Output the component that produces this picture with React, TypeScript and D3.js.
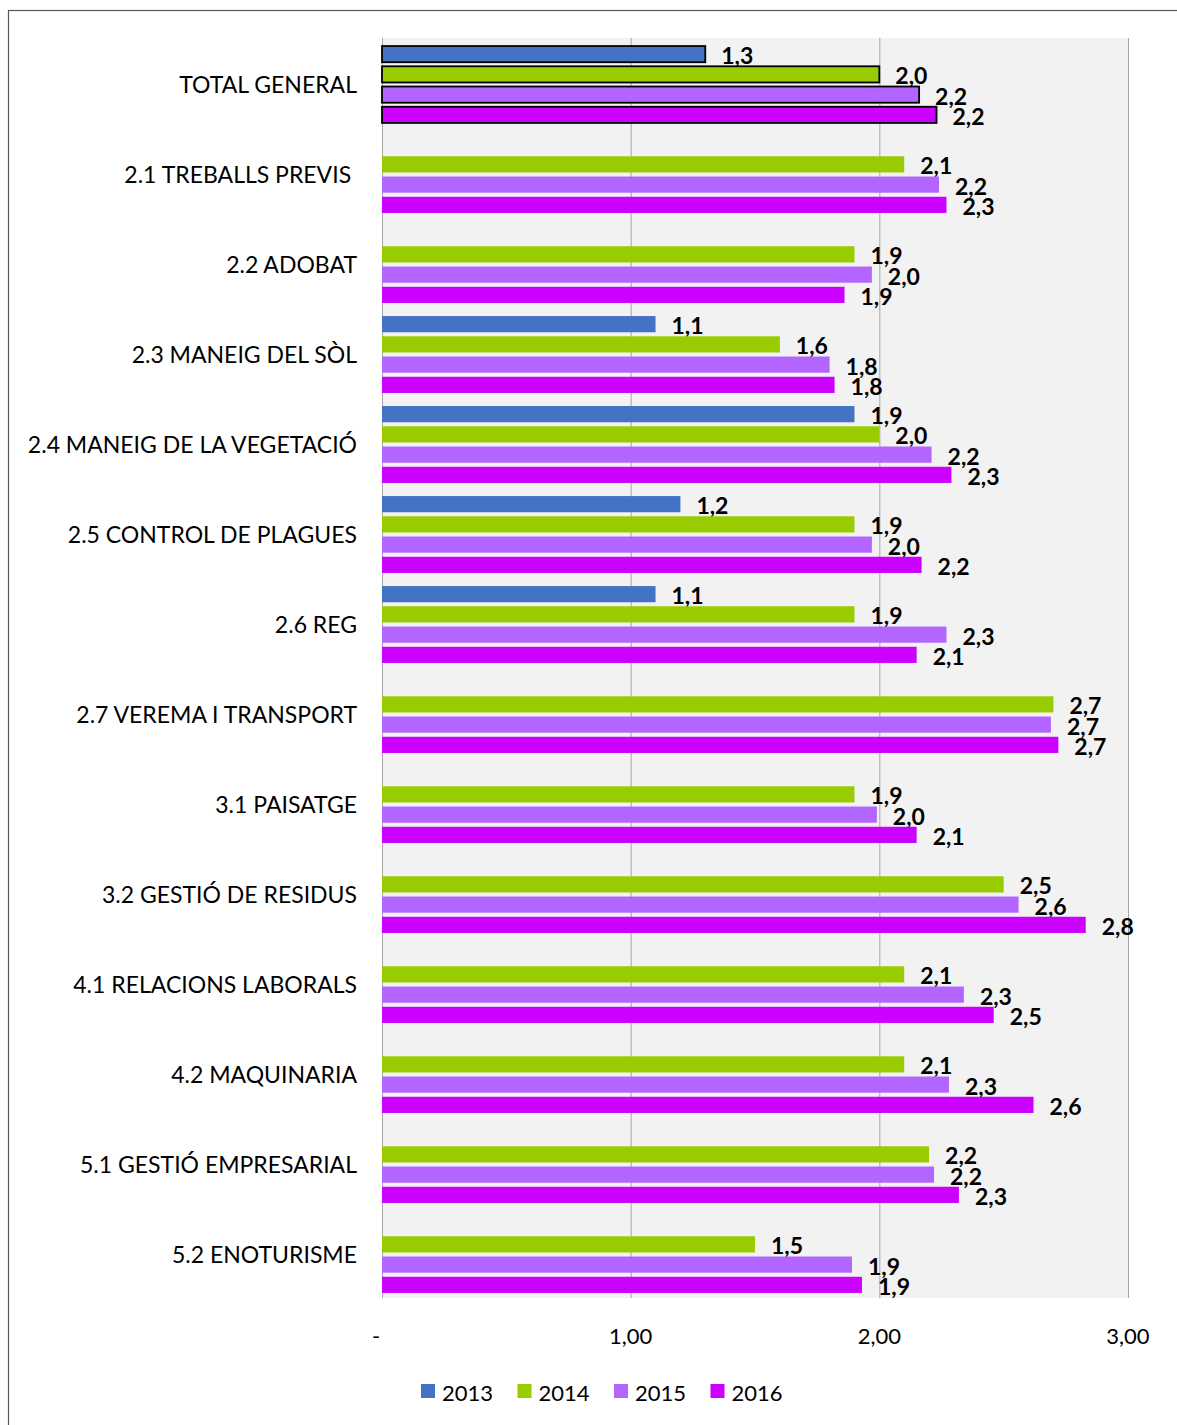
import React, { useEffect, useRef } from 'react';
import * as d3 from 'd3';

const categories = [
  'TOTAL GENERAL',
  '2.1 TREBALLS PREVIS ',
  '2.2 ADOBAT',
  '2.3 MANEIG DEL SÒL',
  '2.4 MANEIG DE LA VEGETACIÓ',
  '2.5 CONTROL DE PLAGUES',
  '2.6 REG',
  '2.7 VEREMA I TRANSPORT',
  '3.1 PAISATGE',
  '3.2 GESTIÓ DE RESIDUS',
  '4.1 RELACIONS LABORALS',
  '4.2 MAQUINARIA',
  '5.1 GESTIÓ EMPRESARIAL',
  '5.2 ENOTURISME',
];

const years = ['2013', '2014', '2015', '2016'];

const values2013: (number | null)[] = [1.3, null, null, 1.1, 1.9, 1.2, 1.1, null, null, null, null, null, null, null];
const values2014: (number | null)[] = [2.0, 2.1, 1.9, 1.6, 2.0, 1.9, 1.9, 2.7, 1.9, 2.5, 2.1, 2.1, 2.2, 1.5];
const values2015: (number | null)[] = [2.16, 2.24, 1.97, 1.8, 2.21, 1.97, 2.27, 2.69, 1.99, 2.56, 2.34, 2.28, 2.22, 1.89];
const values2016: (number | null)[] = [2.23, 2.27, 1.86, 1.82, 2.29, 2.17, 2.15, 2.72, 2.15, 2.83, 2.46, 2.62, 2.32, 1.93];

const seriesValues = [values2013, values2014, values2015, values2016];
const colors = ['#4472C4', '#99CC00', '#B266FF', '#CC00FF'];
const xTicks = [0, 1, 2, 3];

const FONT = 'Lato, "Open Sans", sans-serif';

const App: React.FC = () => {
  const svgRef = useRef<SVGSVGElement>(null);

  useEffect(() => {
    if (!svgRef.current) return;
    const svg = d3.select(svgRef.current);
    svg.selectAll('*').remove();

    const margin = { top: 38, left: 382, right: 49, bottom: 127 };
    const W = 1177;
    const H = 1425;
    const plotW = W - margin.left - margin.right;
    const plotH = H - margin.top - margin.bottom;

    // outer chart border
    svg.append('rect')
      .attr('x', 8.5).attr('y', 10.5)
      .attr('width', 1300).attr('height', 1600)
      .attr('fill', 'none').attr('stroke', '#595959').attr('stroke-width', 1.2);

    const g = svg.append('g').attr('transform', `translate(${margin.left},${margin.top})`);

    const x = d3.scaleLinear().domain([0, 3]).range([0, plotW]);
    const y0 = d3.scaleBand().domain(categories).range([0, plotH]).padding(0);
    const y1 = d3.scaleBand().domain(years).range([4, y0.bandwidth() - 1]).paddingInner(0.2).paddingOuter(0.2);

    g.append('rect')
      .attr('width', plotW).attr('height', plotH)
      .attr('fill', '#F2F2F2');

    // gridlines
    g.selectAll('.grid')
      .data(xTicks.slice(1))
      .enter()
      .append('line')
      .attr('x1', d => x(d) + 0.5).attr('x2', d => x(d) + 0.5)
      .attr('y1', 0).attr('y2', plotH)
      .attr('stroke', '#A6A6A6').attr('stroke-width', 1);

    // category axis line
    g.append('line')
      .attr('x1', 0.5).attr('x2', 0.5)
      .attr('y1', 0).attr('y2', plotH)
      .attr('stroke', '#A6A6A6');

    // bars
    categories.forEach((cat, ci) => {
      const isTotal = ci === 0;
      years.forEach((yr, si) => {
        const v = seriesValues[si][ci];
        if (v == null) return;
        const by = (y0(cat) || 0) + (y1(yr) || 0);
        g.append('rect')
          .attr('x', x(0))
          .attr('y', by)
          .attr('width', x(v))
          .attr('height', y1.bandwidth())
          .attr('fill', colors[si])
          .attr('stroke', isTotal ? '#000' : 'none')
          .attr('stroke-width', isTotal ? 1.8 : 0);
        g.append('text')
          .attr('x', x(v) + 16)
          .attr('y', by + y1.bandwidth() / 2 + 1)
          .attr('dominant-baseline', 'central')
          .style('font-family', FONT)
          .style('font-weight', 'bold')
          .style('font-size', '23px')
          .style('fill', '#000')
          .text(d3.format('.1f')(v).replace('.', ','));
      });
    });

    // category labels
    g.selectAll('.cat')
      .data(categories)
      .enter()
      .append('text')
      .attr('x', -25)
      .attr('y', d => (y0(d) || 0) + y0.bandwidth() / 2 + 1)
      .attr('text-anchor', 'end')
      .attr('dominant-baseline', 'central')
      .style('white-space', 'pre')
      .style('font-family', FONT)
      .style('font-size', '23px')
      .style('fill', '#000')
      .text(d => d);

    // x tick labels
    g.selectAll('.tick-label')
      .data(xTicks)
      .enter()
      .append('text')
      .attr('x', d => x(d) + (d === 0 ? -6 : 0))
      .attr('y', plotH + 37)
      .attr('text-anchor', 'middle')
      .attr('dominant-baseline', 'central')
      .style('font-family', FONT)
      .style('font-size', '22px')
      .style('fill', '#000')
      .text(d => (d === 0 ? '-' : d3.format('.2f')(d).replace('.', ',')));

    // legend
    const legend = svg.append('g').attr('transform', 'translate(421,1391)');
    years.forEach((yr, i) => {
      const lg = legend.append('g').attr('transform', `translate(${i * 96.5},0)`);
      lg.append('rect')
        .attr('x', 0).attr('y', -7)
        .attr('width', 14).attr('height', 14)
        .attr('fill', colors[i]);
      lg.append('text')
        .attr('x', 21).attr('y', 1)
        .attr('dominant-baseline', 'central')
        .style('font-family', FONT)
        .style('font-size', '22px')
        .style('fill', '#000')
        .text(yr);
    });
  }, []);

  return (
    <svg
      ref={svgRef}
      width={1177}
      height={1425}
      style={{ position: 'absolute', left: 0, top: 0, background: '#fff' }}
    />
  );
};

export default App;
